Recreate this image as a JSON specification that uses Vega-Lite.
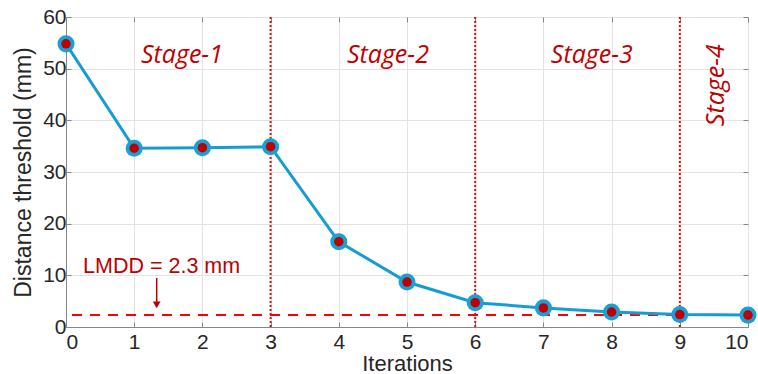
{
  "$schema": "https://vega.github.io/schema/vega-lite/v6.json",
  "width": 682,
  "height": 310,
  "autosize": {"type": "none"},
  "padding": {"left": 66, "top": 17, "right": 10, "bottom": 47},
  "background": "white",
  "config": {
    "view": {"stroke": "#888888", "strokeWidth": 1},
    "axis": {
      "domainColor": "#888888",
      "tickColor": "#888888",
      "gridColor": "#e3e3e3",
      "labelFont": "Liberation Sans",
      "titleFont": "Liberation Sans",
      "labelFontSize": 21,
      "titleFontSize": 22,
      "labelColor": "#262626",
      "titleColor": "#262626",
      "titleFontWeight": "normal",
      "tickSize": -5,
      "format": "d"
    }
  },
  "resolve": {"axis": {"x": "independent", "y": "independent"}},
  "datasets": {
    "pts": [
      {"it": 0, "d": 54.8},
      {"it": 1, "d": 34.6},
      {"it": 2, "d": 34.7},
      {"it": 3, "d": 34.9},
      {"it": 4, "d": 16.5},
      {"it": 5, "d": 8.7},
      {"it": 6, "d": 4.7},
      {"it": 7, "d": 3.7},
      {"it": 8, "d": 2.9},
      {"it": 9, "d": 2.4},
      {"it": 10, "d": 2.3}
    ],
    "stages": [
      {"x": 1.7, "y": 51.1, "label": "Stage-1"},
      {"x": 4.72, "y": 51.1, "label": "Stage-2"},
      {"x": 7.71, "y": 51.1, "label": "Stage-3"}
    ],
    "vlines": [{"x": 3}, {"x": 6}, {"x": 9}]
  },
  "layer": [
    {
      "data": {"name": "pts"},
      "mark": {"type": "point", "opacity": 0},
      "encoding": {
        "x": {
          "field": "it", "type": "quantitative",
          "scale": {"domain": [0, 10], "nice": false},
          "axis": {"title": "Iterations", "values": [0,1,2,3,4,5,6,7,8,9,10], "format": "d", "grid": true, "labelPadding": 9, "titleY": 43, "titleBaseline": "alphabetic"}
        },
        "y": {
          "field": "d", "type": "quantitative",
          "scale": {"domain": [0, 60], "nice": false},
          "axis": {"title": "Distance threshold (mm)", "values": [0,10,20,30,40,50,60], "format": "d", "grid": true, "labelPadding": 5, "titleX": -43, "titleBaseline": "middle", "titleFontSize": 23}
        }
      }
    },
    {
      "data": {"name": "pts"},
      "mark": {"type": "point", "opacity": 0},
      "encoding": {
        "x": {
          "field": "it", "type": "quantitative",
          "axis": {"orient": "top", "title": null, "labels": false, "values": [0,1,2,3,4,5,6,7,8,9,10], "grid": false, "domain": false}
        },
        "y": {
          "field": "d", "type": "quantitative",
          "axis": {"orient": "right", "title": null, "labels": false, "values": [0,10,20,30,40,50,60], "grid": false, "domain": false}
        }
      }
    },
    {
      "data": {"name": "vlines"},
      "mark": {"type": "rule", "color": "#ff0000", "strokeWidth": 2, "strokeDash": [2, 2]},
      "encoding": {
        "x": {"field": "x", "type": "quantitative", "axis": null}
      }
    },
    {
      "data": {"values": [{"y": 2.3}]},
      "mark": {"type": "rule", "color": "#ff0000", "strokeWidth": 2, "strokeDash": [10, 8]},
      "encoding": {
        "y": {"field": "y", "type": "quantitative", "axis": null}
      }
    },
    {
      "data": {"name": "pts"},
      "mark": {"type": "line", "color": "#159dd3", "strokeWidth": 3},
      "encoding": {
        "x": {"field": "it", "type": "quantitative", "axis": null},
        "y": {"field": "d", "type": "quantitative", "axis": null}
      }
    },
    {
      "data": {"name": "pts"},
      "mark": {"type": "circle", "color": "#1ba0d5", "size": 290, "opacity": 1},
      "encoding": {
        "x": {"field": "it", "type": "quantitative", "axis": null},
        "y": {"field": "d", "type": "quantitative", "axis": null}
      }
    },
    {
      "data": {"name": "pts"},
      "mark": {"type": "circle", "color": "#c00000", "size": 90, "opacity": 1},
      "encoding": {
        "x": {"field": "it", "type": "quantitative", "axis": null},
        "y": {"field": "d", "type": "quantitative", "axis": null}
      }
    },
    {
      "data": {"name": "stages"},
      "mark": {"type": "text", "font": "Open Sans", "fontStyle": "italic", "fontSize": 25, "color": "#c00000", "align": "center", "baseline": "alphabetic"},
      "encoding": {
        "x": {"field": "x", "type": "quantitative", "axis": null},
        "y": {"field": "y", "type": "quantitative", "axis": null},
        "text": {"field": "label"}
      }
    },
    {
      "data": {"values": [{"x": 9.53, "y": 46.8, "label": "Stage-4"}]},
      "mark": {"type": "text", "font": "Open Sans", "fontStyle": "italic", "fontSize": 25, "color": "#c00000", "align": "center", "baseline": "middle", "angle": 270},
      "encoding": {
        "x": {"field": "x", "type": "quantitative", "axis": null},
        "y": {"field": "y", "type": "quantitative", "axis": null},
        "text": {"field": "label"}
      }
    },
    {
      "data": {"values": [{"x": 0.25, "y": 10.45, "label": "LMDD = 2.3 mm"}]},
      "mark": {"type": "text", "font": "Liberation Sans", "fontSize": 21.5, "color": "#c00000", "align": "left", "baseline": "alphabetic"},
      "encoding": {
        "x": {"field": "x", "type": "quantitative", "axis": null},
        "y": {"field": "y", "type": "quantitative", "axis": null},
        "text": {"field": "label"}
      }
    },
    {
      "data": {"values": [{"x": 1.33, "y": 9.5, "y2": 4.5}]},
      "mark": {"type": "rule", "color": "#c00000", "strokeWidth": 1.5},
      "encoding": {
        "x": {"field": "x", "type": "quantitative", "axis": null},
        "y": {"field": "y", "type": "quantitative", "axis": null},
        "y2": {"field": "y2"}
      }
    },
    {
      "data": {"values": [{"x": 1.33, "y": 4.3}]},
      "mark": {"type": "point", "shape": "triangle-down", "filled": true, "color": "#c00000", "size": 60, "opacity": 1},
      "encoding": {
        "x": {"field": "x", "type": "quantitative", "axis": null},
        "y": {"field": "y", "type": "quantitative", "axis": null}
      }
    }
  ]
}
